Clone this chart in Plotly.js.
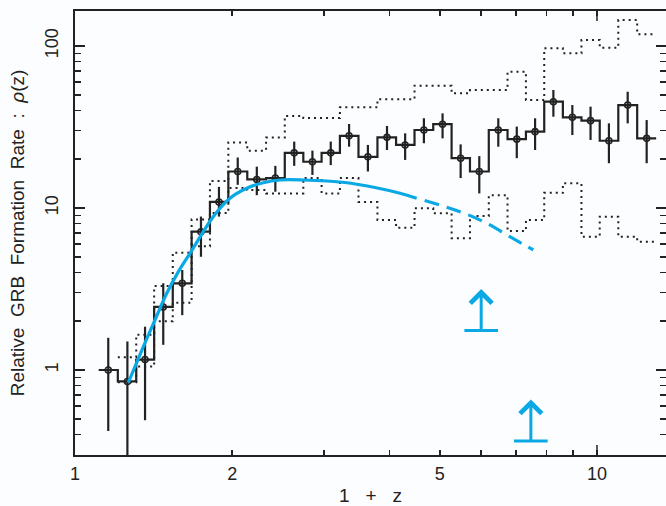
<!DOCTYPE html>
<html>
<head>
<meta charset="utf-8">
<script src="https://cdn.plot.ly/plotly-3.0.1.min.js"></script>
<style>html,body{margin:0;padding:0;background:#fcfdfe;}</style>
</head>
<body>
<div id="chart" style="width:666px;height:506px;"></div>
<script>
// ---- data ----
const zCenter = [1.158, 1.26, 1.362, 1.476, 1.605, 1.743, 1.887, 2.05, 2.23, 2.42,
  2.63, 2.85, 3.09, 3.35, 3.64, 3.96, 4.29, 4.66, 5.06, 5.48,
  5.95, 6.47, 7.02, 7.61, 8.25, 8.97, 9.72, 10.54, 11.45, 12.45];
const rate = [1.00, 0.85, 1.16, 2.45, 3.43, 7.14, 10.9, 16.8, 15.0, 15.3,
  21.9, 19.3, 21.9, 27.9, 20.7, 27.3, 24.5, 30.3, 32.9, 20.3,
  16.8, 30.3, 26.6, 29.6, 45.3, 36.3, 34.6, 26.0, 43.2, 26.9];
const rateHi = [1.58, 1.50, 1.85, 3.43, 4.14, 8.85, 13.5, 20.5, 18.0, 18.2,
  25.7, 22.6, 25.7, 33.0, 24.5, 32.1, 28.9, 35.8, 38.4, 24.7,
  20.9, 35.8, 31.8, 35.8, 53.5, 43.2, 42.2, 33.3, 52.2, 34.9];
const rateLo = [0.42, 0.10, 0.49, 1.43, 2.18, 5.0, 8.85, 13.9, 12.0, 12.6,
  18.2, 16.0, 18.4, 23.9, 16.8, 22.8, 19.8, 25.1, 26.9, 15.3,
  12.3, 23.9, 20.3, 22.8, 36.6, 28.2, 26.3, 18.9, 33.3, 18.9];
const upperBound = [null, 1.2, 1.65, 3.3, 5.3, 8.5, 14.7, 25.4, 22.6, 27.2,
  37.0, 35.9, 35.9, 41.8, 41.8, 46.9, 46.9, 56.9, 56.9, 51.1,
  53.5, 53.5, 69.4, 46.4, 96.8, 90.1, 108.9, 97.6, 144.6, 118.1];
const lowerBound = [null, 0.84, 1.05, 2.0, 2.6, 5.8, 9.3, 13.3, 12.9, 12.3,
  12.3, 15.3, 12.3, 15.3, 10.9, 8.43, 7.56, 9.96, 9.27, 6.5,
  8.93, 12.0, 7.21, 8.43, 12.4, 14.2, 6.65, 8.84, 6.65, 6.2];
const modelZ = [1.265, 1.352, 1.423, 1.499, 1.578, 1.661, 1.840, 1.981, 2.133, 2.295,
  2.470, 2.734, 3.290, 3.755, 4.195, 4.514];
const modelRate = [0.837, 1.393, 2.035, 2.975, 4.045, 5.253, 8.837, 11.48, 13.23, 14.33,
  14.89, 14.89, 14.37, 13.38, 12.32, 11.48];
const modelZExt = [4.514, 5.465, 6.148, 6.81, 7.551];
const modelRateExt = [11.48, 9.49, 8.05, 6.65, 5.506];
const limitZ = [6.0, 7.47];
const limitRate = [1.75, 0.365];
const xTickVals = [1, 2, 5, 10];
const xTickText = ['1', '2', '5', '10'];
const yTickVals = [1, 10, 100];
const yTickText = ['1', '10', '100'];

// ---- build step histograms from bin centres (log-uniform bins) ----
const lc = zCenter.map(Math.log10);
function edges(i) {
  const lo = i === 0 ? lc[0] - (lc[1] - lc[0]) / 2 : (lc[i - 1] + lc[i]) / 2;
  const hi = i === lc.length - 1 ? lc[i] + (lc[i] - lc[i - 1]) / 2 : (lc[i] + lc[i + 1]) / 2;
  return [Math.pow(10, lo), Math.pow(10, hi)];
}
function steps(vals) {
  const xs = [], ys = [];
  vals.forEach((v, i) => {
    if (v === null) return;
    const e = edges(i);
    xs.push(e[0], e[1]); ys.push(v, v);
  });
  return {x: xs, y: ys};
}
const main = steps(rate), up = steps(upperBound), low = steps(lowerBound);

const BLUE = '#0aa9e6';
const INK = '#222222';

const traces = [
  {x: up.x, y: up.y, mode: 'lines', line: {color: INK, width: 2, dash: '2px,4px'}, hoverinfo: 'skip'},
  {x: low.x, y: low.y, mode: 'lines', line: {color: INK, width: 2, dash: '2px,4px'}, hoverinfo: 'skip'},
  {x: main.x, y: main.y, mode: 'lines', line: {color: INK, width: 2.2}, hoverinfo: 'skip'},
  {x: zCenter, y: rate, mode: 'markers',
   marker: {symbol: 'circle-open', size: 6, color: INK, line: {width: 1.6, color: INK}},
   error_y: {type: 'data', symmetric: false,
     array: rateHi.map((h, i) => h - rate[i]),
     arrayminus: rateLo.map((l, i) => rate[i] - l),
     color: INK, thickness: 2.2, width: 0}},
  {x: modelZ, y: modelRate, mode: 'lines', line: {color: BLUE, width: 3.2, shape: 'spline'}},
  {x: modelZExt, y: modelRateExt, mode: 'lines', line: {color: BLUE, width: 3.2, shape: 'spline', dash: '0px,8px,15px,0px'}},
  {x: limitZ, y: limitRate, mode: 'markers',
   marker: {symbol: 'line-ew', size: 24, color: BLUE, line: {width: 3, color: BLUE}}}
];

const annotations = limitZ.map((z, i) => ({
  x: Math.log10(z), y: Math.log10(limitRate[i]), xref: 'x', yref: 'y',
  text: '', showarrow: true, ax: 0, ay: -43,
  arrowside: 'start', startarrowhead: 4, startarrowsize: 1.4,
  arrowwidth: 3, arrowcolor: BLUE
}));

const plotH = 506 - 11 - 51;
const layout = {
  width: 666, height: 506,
  margin: {l: 75, r: 0, t: 11, b: 51},
  paper_bgcolor: '#fcfdfe', plot_bgcolor: '#fcfdfe',
  showlegend: false,
  font: {family: 'Liberation Sans, Arial, sans-serif', size: 18, color: INK},
  xaxis: {
    type: 'log', range: [0, 1.1322], showgrid: false, zeroline: false,
    showline: true, linecolor: INK, linewidth: 2, mirror: 'ticks',
    ticks: 'inside', ticklen: 5, tickwidth: 1.5, tickcolor: INK,
    tickmode: 'array', tickvals: xTickVals, ticktext: xTickText,
    minor: {tickvals: [3, 4, 6, 7, 8, 9], ticks: 'inside', ticklen: 5, tickwidth: 1.5, tickcolor: INK},
    tickfont: {size: 18}, ticklabelstandoff: 1,
    title: {text: '1\u00a0\u00a0 +\u00a0\u00a0 z', font: {size: 19}, standoff: 14}
  },
  yaxis: {
    type: 'log', range: [-0.5247, 2.216], showgrid: false, zeroline: false,
    showline: true, linecolor: INK, linewidth: 2, mirror: 'ticks',
    ticks: 'inside', ticklen: 10, tickwidth: 1.5, tickcolor: INK,
    tickmode: 'array', tickvals: yTickVals, ticktext: yTickText,
    minor: {tickvals: [0.3, 0.4, 0.5, 0.6, 0.7, 0.8, 0.9, 2, 3, 4, 5, 6, 7, 8, 9, 20, 30, 40, 50, 60, 70, 80, 90],
            ticks: 'inside', ticklen: 6, tickwidth: 1.5, tickcolor: INK},
    tickangle: -90, tickfont: {size: 18}, ticklabelstandoff: 8,
    title: {text: 'Relative\u00a0 GRB\u00a0 Formation\u00a0 Rate\u00a0 :\u00a0 <i>\u03c1</i>(z)', font: {size: 19}, standoff: 12}
  },
  shapes: [
    {type: 'line', xref: 'x', yref: 'paper', x0: 10, x1: 10, y0: 0, y1: 10 / plotH, line: {color: INK, width: 1.5}},
    {type: 'line', xref: 'x', yref: 'paper', x0: 10, x1: 10, y0: 1 - 10 / plotH, y1: 1, line: {color: INK, width: 1.5}}
  ],
  annotations: annotations
};

Plotly.newPlot('chart', traces, layout, {displayModeBar: false, staticPlot: true});
</script>
</body>
</html>
